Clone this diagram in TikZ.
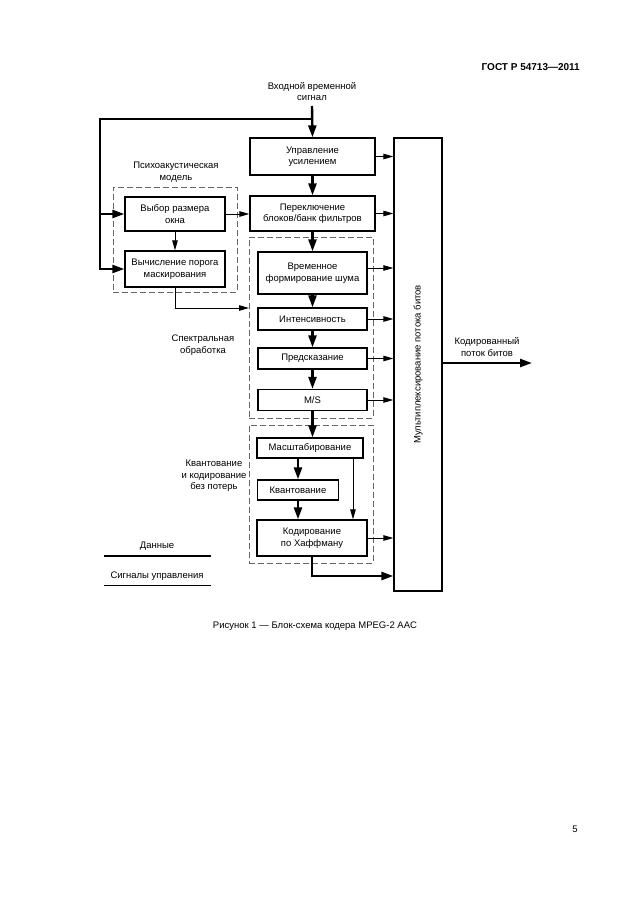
\documentclass[tikz,border=0pt]{standalone}
\usepackage{fontspec}
\setmainfont{Liberation Sans}
\usetikzlibrary{arrows.meta}
\begin{document}
\begin{tikzpicture}[x=1pt,y=-1pt,
  every node/.style={font=\fontsize{9.5}{11.5}\selectfont, inner sep=0pt},
  blk/.style={draw, line width=1.3pt, align=center},
  grp/.style={draw=black!60, line width=0.9pt, dash pattern=on 6pt off 3pt},
  data/.style={line width=2.4pt, -{Triangle[length=12pt,width=8pt]}},
  ctl/.style={line width=1pt, -{Triangle[length=10pt,width=5.5pt]}},
  lbl/.style={align=center}]
\useasboundingbox (0,0) rectangle (630,913);

% header, caption, page number
\node[font=\bfseries\fontsize{10}{12}\selectfont, anchor=east] (hdr) at (580,67) {ГОСТ Р 54713—2011};
\node (cap) at (315,626) {Рисунок 1 — Блок-схема кодера MPEG-2 AAC};
\node (pg) at (575,829) {5};

% groups
\node[grp, minimum width=124pt, minimum height=105pt] (psy) at (175,239.5) {};
\node[grp, minimum width=124pt, minimum height=181pt] (spec) at (311,327.5) {};
\node[grp, minimum width=124pt, minimum height=138pt] (quant) at (311,494) {};

% blocks
\node[blk, minimum width=125pt, minimum height=37pt] (upr) at (312.5,156.5) {Управление\\усилением};
\node[blk, minimum width=125pt, minimum height=35pt] (per) at (312.5,213.5) {Переключение\\блоков/банк фильтров};
\node[blk, minimum width=100pt, minimum height=34pt] (vyb) at (175,214) {Выбор размера\\окна};
\node[blk, minimum width=100pt, minimum height=36pt] (vych) at (175,269) {Вычисление порога\\маскирования};
\node[blk, minimum width=109pt, minimum height=42pt] (vrem) at (312.5,273) {Временное\\формирование шума};
\node[blk, minimum width=109pt, minimum height=22pt] (int) at (312.5,319) {Интенсивность};
\node[blk, minimum width=109pt, minimum height=21pt] (pred) at (312.5,358.5) {Предсказание};
\node[blk, minimum width=109pt, minimum height=21pt] (ms) at (312.5,400) {M/S};
\node[blk, minimum width=106pt, minimum height=20pt] (masht) at (310,448) {Масштабирование};
\node[blk, minimum width=81pt, minimum height=20pt] (kvant) at (298,490) {Квантование};
\node[blk, minimum width=110pt, minimum height=36pt] (kod) at (312,538) {Кодирование\\по Хаффману};
\node[blk, minimum width=48pt, minimum height=453pt] (mux) at (418,364.5) {};
\node[rotate=90] (muxlbl) at (mux.center) {Мультиплексирование потока битов};

% labels
\node[lbl] (inlbl) at (312,91.5) {Входной временной\\сигнал};
\node[lbl] (psylbl) at (176,172) {Психоакустическая\\модель};
\node[lbl] (speclbl) at (203,345) {Спектральная\\обработка};
\node[lbl] (quantlbl) at (214,476) {Квантование\\и кодирование\\без потерь};
\node[lbl] (outlbl) at (487,347) {Кодированный\\поток битов};

% input and loop
\coordinate (in) at (312,106);
\coordinate (j) at (312,119);
\coordinate (ltop) at (100,119);
\draw[data] (in) -- (upr.north);
\draw[data] (j) -- (ltop) |- (vych.west);
\draw[data] (ltop |- vyb.west) -- (vyb.west);

% psychoacoustic model
\draw[ctl] (vyb.east) -- (vyb.east -| per.west);
\draw[ctl] (vyb.south) -- (vych.north);
\coordinate (specin) at (249,308);
\draw[ctl] (vych.south) |- (specin);

% data chain
\draw[data] (upr.south) -- (per.north);
\draw[data] (per.south) -- (vrem.north);
\draw[data] (vrem.south) -- (int.north);
\draw[data] (int.south) -- (pred.north);
\draw[data] (pred.south) -- (ms.north);
\draw[data] (ms.south) -- (ms.south |- masht.north);
\draw[data] (kvant.north |- masht.south) -- (kvant.north);
\draw[data] (kvant.south) -- (kvant.south |- kod.north);
\coordinate (mx) at ([xshift=43pt]masht.south);
\draw[ctl] (mx) -- (mx |- kod.north);

% control outputs to multiplexer
\coordinate (vremout) at (367,268);
\draw[ctl] (upr.east) -- (upr.east -| mux.west);
\draw[ctl] (per.east) -- (per.east -| mux.west);
\draw[ctl] (vremout) -- (vremout -| mux.west);
\draw[ctl] (int.east) -- (int.east -| mux.west);
\draw[ctl] (pred.east) -- (pred.east -| mux.west);
\draw[ctl] (ms.east) -- (ms.east -| mux.west);
\draw[ctl] (kod.east) -- (kod.east -| mux.west);
\coordinate (kb) at (312,576);
\draw[data] (kod.south) |- (mux.west |- kb);

% output
\coordinate (out) at (532,363);
\draw[data] (mux.east |- out) -- (out);

% legend
\node (leg1) at (157,546) {Данные};
\coordinate (l1a) at (104,556);
\coordinate (l1b) at (211,556);
\draw[line width=2.4pt] (l1a) -- (l1b);
\node (leg2) at (157,576) {Сигналы управления};
\coordinate (l2a) at (104,585);
\coordinate (l2b) at (211,585);
\draw[line width=1pt] (l2a) -- (l2b);
\end{tikzpicture}
\end{document}
